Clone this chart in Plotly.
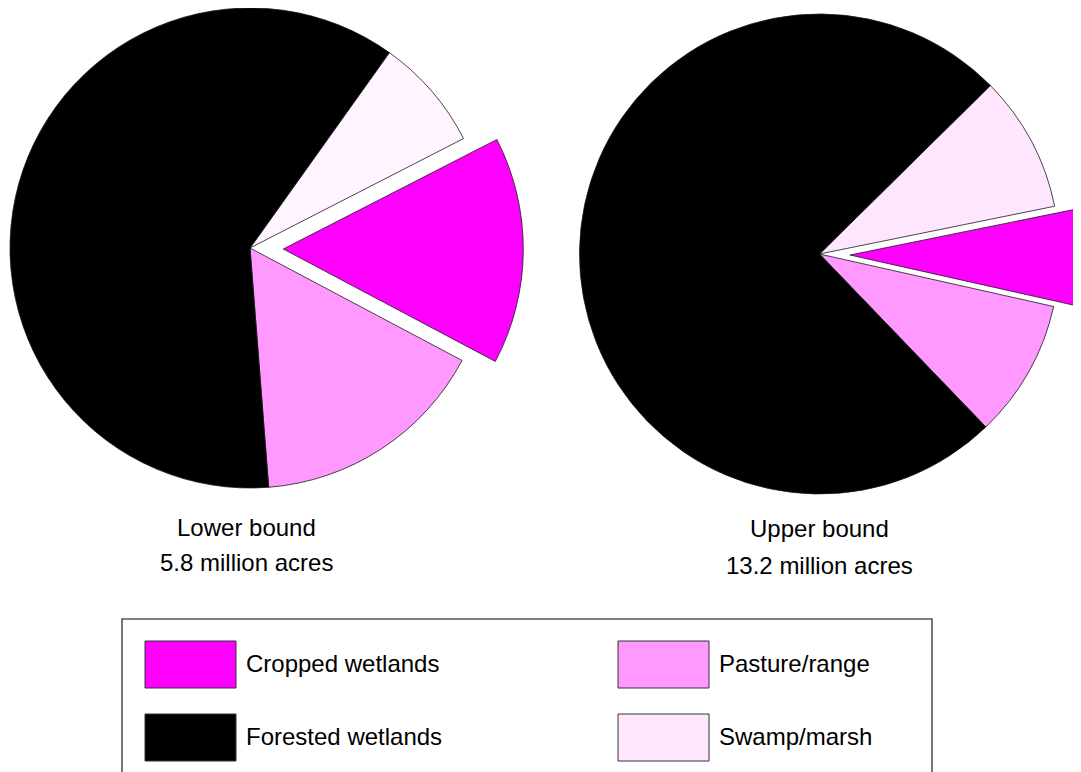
import plotly.graph_objects as go

# ---------------- data ----------------
categories = ["Swamp/marsh", "Cropped wetlands", "Pasture/range", "Forested wetlands"]
lower_pct = [7.6, 15.3, 16.0, 61.1]     # Lower bound: 5.8 million acres
upper_pct = [9.2, 6.7, 9.3, 74.8]       # Upper bound: 13.2 million acres
caption_titles = ["Lower bound", "Upper bound"]
caption_totals = ["5.8 million acres", "13.2 million acres"]
legend_labels = ["Cropped wetlands", "Pasture/range", "Forested wetlands", "Swamp/marsh"]
pulled_category = "Cropped wetlands"

# ---------------- style ----------------
W, H = 1110, 772
OFF = 8  # page body margin offset
FONT = "Liberation Sans, Arial, sans-serif"
FS = 24
base_colors = {
    "Cropped wetlands": "#FF00FF",
    "Pasture/range": "#FF99FF",
    "Forested wetlands": "#000000",
    "Swamp/marsh": "#FFE6FF",
}
swamp_light = ["#FFF4FF", "#FFE6FF"]
LINE = "#1a1a1a"
TRANSPARENT = "rgba(0,0,0,0)"


def px(x):
    return (x - OFF) / W


def py(y):
    return 1 - (y - OFF) / H


def dom(cx, cy, r):
    x0, x1 = px(cx - r), px(cx + r)
    y0, y1 = py(cy + r), py(cy - r)
    return dict(x=[max(0, x0), min(1, x1)], y=[max(0, y0), min(1, y1)])


fig = go.Figure()

pies = [
    dict(values=lower_pct, cx=250, cy=248, r=240, pcx=283.3, rot=35.5, swamp=swamp_light[0]),
    dict(values=upper_pct, cx=819.5, cy=254, r=240, pcx=850, rot=45.4, swamp=swamp_light[1]),
]

for k, p in enumerate(pies):
    cols, lw, pcols, plw = [], [], [], []
    for c in categories:
        col = p["swamp"] if c == "Swamp/marsh" else base_colors[c]
        if c == pulled_category:
            cols.append(TRANSPARENT); lw.append(0)
            pcols.append(col); plw.append(0.8)
        else:
            cols.append(col); lw.append(0.8)
            pcols.append(TRANSPARENT); plw.append(0)
    common = dict(labels=categories, values=p["values"], sort=False, direction="clockwise",
                  rotation=p["rot"], textinfo="none", showlegend=False,
                  hoverinfo="label+percent")
    fig.add_trace(go.Pie(**common, domain=dom(p["cx"], p["cy"], p["r"]),
                         marker=dict(colors=cols, line=dict(color=LINE, width=lw))))
    fig.add_trace(go.Pie(**common, domain=dom(p["pcx"], p["cy"] + 1, p["r"]),
                         marker=dict(colors=pcols, line=dict(color=LINE, width=plw))))

# captions under the pies
cap_x = [246, 819]
cap_y1 = [527, 528]
cap_y2 = [562, 565]
for i in range(2):
    fig.add_annotation(x=px(cap_x[i]), y=py(cap_y1[i]), xref="paper", yref="paper",
                       text=caption_titles[i], showarrow=False, xanchor="center", yanchor="middle",
                       font=dict(family=FONT, size=FS, color="#000"))
    fig.add_annotation(x=px(cap_x[i]), y=py(cap_y2[i]), xref="paper", yref="paper",
                       text=caption_totals[i], showarrow=False, xanchor="center", yanchor="middle",
                       font=dict(family=FONT, size=FS, color="#000"))

# legend box
fig.add_shape(type="rect", xref="paper", yref="paper",
              x0=px(122), x1=px(932), y0=-0.05, y1=py(619),
              line=dict(color="#555555", width=1.6), fillcolor="rgba(0,0,0,0)")

sw_x = [145, 618]
sw_y = [641, 714]
for j, lab in enumerate(legend_labels):
    col_i, row_i = j % 2, j // 2
    x0 = sw_x[col_i]
    y0 = sw_y[row_i]
    fig.add_shape(type="rect", xref="paper", yref="paper",
                  x0=px(x0), x1=px(x0 + 91), y0=py(y0 + 47), y1=py(y0),
                  line=dict(color="#333333", width=1), fillcolor=base_colors[lab])
    fig.add_annotation(x=px(x0 + 99), y=py(y0 + 22), xref="paper", yref="paper",
                       text=lab, showarrow=False, xanchor="left", yanchor="middle",
                       font=dict(family=FONT, size=FS, color="#000"))

fig.update_layout(width=W, height=H, margin=dict(l=0, r=0, t=0, b=0),
                  paper_bgcolor="white", plot_bgcolor="white")

fig.write_html("out.html")
